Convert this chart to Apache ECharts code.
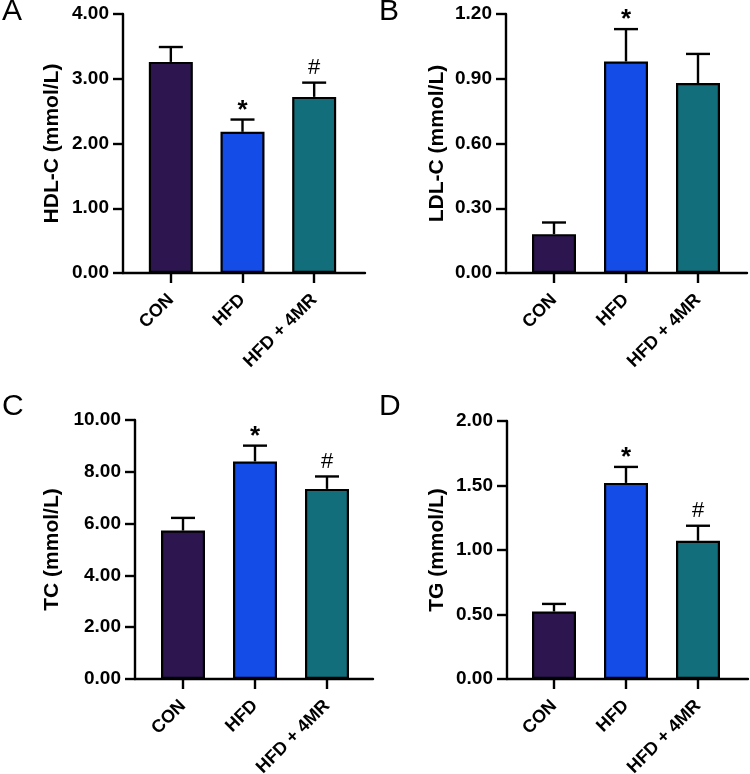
<!DOCTYPE html>
<html>
<head>
<meta charset="utf-8">
<script src="https://cdn.jsdelivr.net/npm/echarts@6/dist/echarts.min.js"></script>
<style>
  html, body { margin: 0; padding: 0; background: #fff; }
  #chart { width: 750px; height: 774px; }
</style>
</head>
<body>
<div id="chart"></div>
<script>
// groups, shared by all four panels
const groups = ["CON", "HFD", "HFD + 4MR"]
const groupColors = ["#2d1650", "#134ce6", "#126e7a"]

// panel A: HDL-C
const hdlMean = [3.26, 2.18, 2.72]
const hdlErr = [0.23, 0.19, 0.22]
const hdlSig = ["", "*", "#"]

// panel B: LDL-C
const ldlMean = [0.18, 0.98, 0.88]
const ldlErr = [0.054, 0.15, 0.135]
const ldlSig = ["", "*", ""]

// panel C: TC
const tcMean = [5.73, 8.40, 7.34]
const tcErr = [0.49, 0.61, 0.48]
const tcSig = ["", "*", "#"]

// panel D: TG
const tgMean = [0.523, 1.52, 1.072]
const tgErr = [0.059, 0.124, 0.116]
const tgSig = ["", "*", "#"]

// y axis ranges and steps
const yMax = [4, 1.2, 10, 2]
const yStep = [1, 0.3, 2, 0.5]
const yNames = ["HDL-C (mmol/L)", "LDL-C (mmol/L)", "TC (mmol/L)", "TG (mmol/L)"]
const letters = ["A", "B", "C", "D"]

const FONT = "'Liberation Sans', Arial, sans-serif"
const LW = 2.4

let panels = [
	{mean: hdlMean, err: hdlErr, sig: hdlSig,
		frame: {left: 123, right: 385, top: 14, height: 259},
		bars: {left: 135, width: 215}, nameGap: 60, letter: {left: 2, top: -3}},
	{mean: ldlMean, err: ldlErr, sig: ldlSig,
		frame: {left: 506, right: 3, top: 14, height: 259},
		bars: {left: 518, width: 216}, nameGap: 58, letter: {left: 379, top: -3}},
	{mean: tcMean, err: tcErr, sig: tcSig,
		frame: {left: 135, right: 377, top: 420, height: 259},
		bars: {left: 147, width: 216}, nameGap: 72, letter: {left: 2, top: 392}},
	{mean: tgMean, err: tgErr, sig: tgSig,
		frame: {left: 507, right: 2, top: 421, height: 258},
		bars: {left: 518, width: 216}, nameGap: 59, letter: {left: 379, top: 392}}
]

let option = {
	animation: false,
	backgroundColor: "#fff",
	textStyle: {fontFamily: FONT},
	title: [],
	grid: [],
	xAxis: [],
	yAxis: [],
	series: []
}

panels.forEach(function (p, k) {
	let frameIdx = option.grid.length
	let barsIdx = frameIdx + 1

	option.title.push({
		text: letters[k],
		left: p.letter.left,
		top: p.letter.top,
		padding: 0,
		textStyle: {fontFamily: FONT, fontSize: 30, fontWeight: "normal", color: "#000"}
	})

	// frame grid: holds the y axis and the full-length x axis line
	option.grid.push({left: p.frame.left, right: p.frame.right, top: p.frame.top, height: p.frame.height,
		containLabel: false, outerBoundsMode: "none"})
	option.grid.push({left: p.bars.left, width: p.bars.width, top: p.frame.top, height: p.frame.height,
		containLabel: false, outerBoundsMode: "none"})

	option.xAxis.push({
		gridIndex: frameIdx,
		type: "value",
		min: 0,
		max: 1,
		axisLine: {show: true, onZero: false, lineStyle: {color: "#000", width: LW}},
		axisTick: {show: false},
		axisLabel: {show: false},
		splitLine: {show: false}
	})
	option.yAxis.push({
		gridIndex: frameIdx,
		type: "value",
		min: 0,
		max: yMax[k],
		interval: yStep[k],
		name: yNames[k],
		nameLocation: "middle",
		nameGap: p.nameGap,
		nameTextStyle: {fontFamily: FONT, fontSize: 21, fontWeight: "bold", color: "#000"},
		axisLine: {show: true, onZero: false, lineStyle: {color: "#000", width: LW}},
		axisTick: {show: true, length: 10, lineStyle: {color: "#000", width: LW}},
		axisLabel: {
			margin: 14,
			fontFamily: FONT, fontSize: 19, fontWeight: "bold", color: "#000",
			formatter: function (v) { return v.toFixed(2) }
		},
		splitLine: {show: false}
	})

	// bars grid: category axis with ticks and rotated labels
	option.xAxis.push({
		gridIndex: barsIdx,
		type: "category",
		data: groups,
		axisLine: {show: false},
		axisTick: {show: true, alignWithLabel: true, length: 10, lineStyle: {color: "#000", width: LW}},
		axisLabel: {
			interval: 0,
			rotate: 45,
			margin: 24,
			fontFamily: FONT, fontSize: 18, fontWeight: "bold", color: "#000"
		},
		splitLine: {show: false}
	})
	option.yAxis.push({
		gridIndex: barsIdx,
		type: "value",
		min: 0,
		max: yMax[k],
		show: false
	})

	option.series.push({
		type: "bar",
		xAxisIndex: barsIdx,
		yAxisIndex: barsIdx,
		barWidth: 44,
		data: p.mean.map(function (v, i) {
			return {value: v, itemStyle: {color: groupColors[i]}}
		}),
		itemStyle: {borderColor: "#000", borderWidth: 2.2}
	})

	option.series.push({
		type: "custom",
		xAxisIndex: barsIdx,
		yAxisIndex: barsIdx,
		z: 5,
		data: p.mean.map(function (v, i) { return [i, v, p.err[i]] }),
		renderItem: function (params, api) {
			let i = api.value(0)
			let base = api.coord([i, api.value(1)])
			let cap = api.coord([i, api.value(1) + api.value(2)])
			let sig = p.sig[params.dataIndex]
			let style = {stroke: "#000", lineWidth: LW}
			let children = [
				{type: "line", shape: {x1: cap[0], y1: base[1], x2: cap[0], y2: cap[1]}, style: style},
				{type: "line", shape: {x1: cap[0] - 12, y1: cap[1], x2: cap[0] + 12, y2: cap[1]}, style: style}
			]
			if (sig) {
				let star = sig === "*"
				children.push({
					type: "text",
					style: {
						text: sig,
						x: cap[0],
						y: star ? cap[1] + 4 : cap[1] - 4,
						align: "center",
						verticalAlign: "bottom",
						fill: "#000",
						font: (star ? "bold 26px " : "normal 22px ") + FONT
					}
				})
			}
			return {type: "group", children: children}
		}
	})
})

let chart = echarts.init(document.getElementById("chart"))
chart.setOption(option)
</script>
</body>
</html>
